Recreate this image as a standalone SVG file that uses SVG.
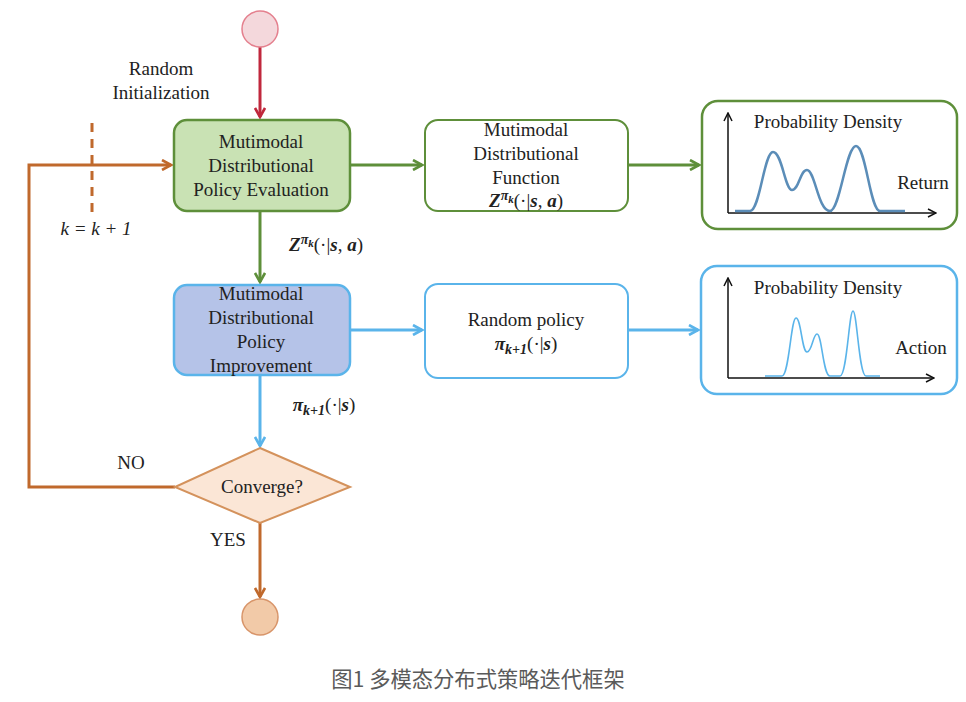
<svg xmlns="http://www.w3.org/2000/svg" width="966" height="702" viewBox="0 0 966 702">
<defs>
<style>
text{font-family:"Liberation Serif","Times New Roman",serif;font-size:19px;fill:#222;text-anchor:middle}
.m{font-style:italic}
.b{font-weight:bold;font-style:italic}
.cap{font-family:"Noto Sans CJK SC",sans-serif;font-size:21.3px;fill:#5a5a5a}
.g{stroke:#5e8f3a;stroke-width:3;fill:none}
.bl{stroke:#5ab4ea;stroke-width:3;fill:none}
.o{stroke:#c0692c;stroke-width:3;fill:none}
.ax{stroke:#111;stroke-width:1.5;fill:none}
</style>
<marker id="ag" viewBox="0 0 12 12" refX="10" refY="6" markerWidth="12" markerHeight="12" markerUnits="userSpaceOnUse" orient="auto"><path d="M1,1 L10,6 L1,11" fill="none" stroke="#5e8f3a" stroke-width="2.6"/></marker>
<marker id="ab" viewBox="0 0 12 12" refX="10" refY="6" markerWidth="12" markerHeight="12" markerUnits="userSpaceOnUse" orient="auto"><path d="M1,1 L10,6 L1,11" fill="none" stroke="#5ab4ea" stroke-width="2.6"/></marker>
<marker id="ao" viewBox="0 0 12 12" refX="10" refY="6" markerWidth="12" markerHeight="12" markerUnits="userSpaceOnUse" orient="auto"><path d="M1,1 L10,6 L1,11" fill="none" stroke="#c0692c" stroke-width="2.6"/></marker>
<marker id="ar" viewBox="0 0 12 12" refX="10" refY="6" markerWidth="12" markerHeight="12" markerUnits="userSpaceOnUse" orient="auto"><path d="M1,1 L10,6 L1,11" fill="none" stroke="#c0283c" stroke-width="2.6"/></marker>
<marker id="ak" viewBox="0 0 10 10" refX="9" refY="5" markerWidth="10" markerHeight="10" markerUnits="userSpaceOnUse" orient="auto"><path d="M1,1 L9,5 L1,9" fill="none" stroke="#111" stroke-width="1.5"/></marker>
</defs>
<rect width="966" height="702" fill="#fff"/>

<g id="connectors">
<line x1="260" y1="47" x2="260" y2="117" stroke="#c0283c" stroke-width="3" marker-end="url(#ar)"/>
<polyline class="o" points="175,487 29,487 29,165 171,165" marker-end="url(#ao)"/>
<line x1="92" y1="123" x2="92" y2="215" stroke="#c0692c" stroke-width="3" stroke-dasharray="9,7"/>
<line class="g" x1="350" y1="165" x2="422" y2="165" marker-end="url(#ag)"/>
<line class="g" x1="628" y1="165" x2="699" y2="165" marker-end="url(#ag)"/>
<line class="g" x1="260" y1="211" x2="260" y2="282" marker-end="url(#ag)"/>
<line class="bl" x1="350" y1="330" x2="422" y2="330" marker-end="url(#ab)"/>
<line class="bl" x1="628" y1="330" x2="698" y2="330" marker-end="url(#ab)"/>
<line class="bl" x1="260" y1="375" x2="260" y2="446" marker-end="url(#ab)"/>
<line class="o" x1="260" y1="523" x2="260" y2="597" marker-end="url(#ao)"/>
<text x="161" y="75">Random</text>
<text x="161" y="99">Initialization</text>
<text x="96" y="235" class="m" font-size="20">k = k + 1</text>
<text x="326" y="251"><tspan class="b">Z</tspan><tspan class="b" font-size="14" dy="-7">π</tspan><tspan class="b" font-size="11" dy="3">k</tspan><tspan dy="4">(·|</tspan><tspan class="b">s</tspan><tspan>, </tspan><tspan class="b">a</tspan><tspan>)</tspan></text>
<text x="324" y="411"><tspan class="b">π</tspan><tspan class="b" font-size="14" dy="4">k+1</tspan><tspan dy="-4">(·|</tspan><tspan class="b">s</tspan><tspan>)</tspan></text>
<text x="131" y="469" font-size="17">NO</text>
<text x="228" y="546" font-size="17">YES</text>
</g>

<g id="start"><circle cx="260" cy="29" r="18" fill="#f4d8dc" stroke="#e4808e" stroke-width="1.5"/></g>

<g id="evaluation">
<rect x="174" y="120" width="176" height="91" rx="13" fill="#c9e2b4" stroke="#5e8f3a" stroke-width="2.5"/>
<text x="261" y="148">Mutimodal</text>
<text x="261" y="172">Distributional</text>
<text x="261" y="196">Policy Evaluation</text>
</g>

<g id="function">
<rect x="425" y="120" width="203" height="91" rx="13" fill="#fff" stroke="#5e8f3a" stroke-width="2"/>
<text x="526" y="136">Mutimodal</text>
<text x="526" y="160">Distributional</text>
<text x="526" y="184">Function</text>
<text x="526" y="207"><tspan class="b">Z</tspan><tspan class="b" font-size="14" dy="-7">π</tspan><tspan class="b" font-size="11" dy="3">k</tspan><tspan dy="4">(·|</tspan><tspan class="b">s</tspan><tspan>, </tspan><tspan class="b">a</tspan><tspan>)</tspan></text>
</g>

<g id="return-plot">
<rect x="702" y="101" width="255" height="128" rx="16" fill="#fff" stroke="#5e8f3a" stroke-width="2.5"/>
<line class="ax" x1="728" y1="213" x2="728" y2="113" marker-end="url(#ak)"/>
<line class="ax" x1="728" y1="213" x2="936" y2="213" marker-end="url(#ak)"/>
<text x="828" y="128">Probability Density</text>
<text x="923" y="189">Return</text>
<path d="M735,211 L750,211 C760,211 764,152 773,152 C782,152 785,190 792,190 C799,190 800,170 807,170 C815,170 818,211 830,211 C840,211 846,146 856,146 C866,146 870,211 880,211 L905,211" fill="none" stroke="#5b8db8" stroke-width="2.5"/>
</g>

<g id="improvement">
<rect x="174" y="285" width="176" height="90" rx="13" fill="#b5c3e8" stroke="#5ab4ea" stroke-width="2.5"/>
<text x="261" y="300">Mutimodal</text>
<text x="261" y="324">Distributional</text>
<text x="261" y="348">Policy</text>
<text x="261" y="372">Improvement</text>
</g>

<g id="policy">
<rect x="425" y="284" width="203" height="94" rx="13" fill="#fff" stroke="#5ab4ea" stroke-width="2"/>
<text x="526" y="326">Random policy</text>
<text x="526" y="350"><tspan class="b">π</tspan><tspan class="b" font-size="14" dy="4">k+1</tspan><tspan dy="-4">(·|</tspan><tspan class="b">s</tspan><tspan>)</tspan></text>
</g>

<g id="action-plot">
<rect x="701" y="266" width="256" height="128" rx="16" fill="#fff" stroke="#5ab4ea" stroke-width="2.5"/>
<line class="ax" x1="728" y1="378" x2="728" y2="278" marker-end="url(#ak)"/>
<line class="ax" x1="728" y1="378" x2="934" y2="378" marker-end="url(#ak)"/>
<text x="828" y="294">Probability Density</text>
<text x="921" y="354">Action</text>
<path d="M765,376 L782,376 C789,376 791,318 796,318 C801,318 802,352 807,352 C812,352 813,334 817,334 C822,334 823,376 830,376 L840,376 C847,376 849,311 853,311 C857,311 859,376 866,376 L880,376" fill="none" stroke="#5ab4ea" stroke-width="1.6"/>
</g>

<g id="converge">
<polygon points="260,448 350,487 260,523 175,487" fill="#fbe6d6" stroke="#d4925c" stroke-width="2"/>
<text x="262" y="493" font-size="17">Converge?</text>
</g>

<g id="end"><circle cx="260" cy="617" r="18" fill="#f2caa8" stroke="#d8956a" stroke-width="1.5"/></g>

<text class="cap" x="478" y="687">图1 多模态分布式策略迭代框架</text>
</svg>
